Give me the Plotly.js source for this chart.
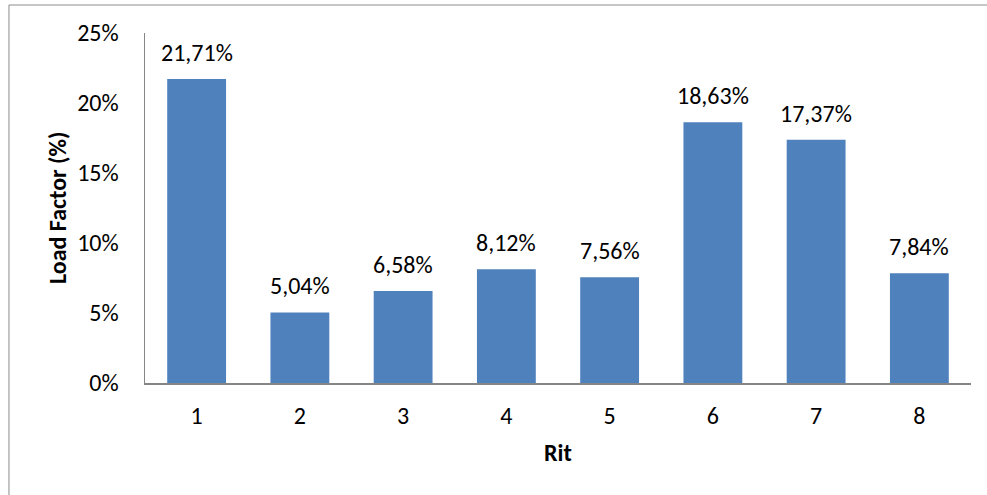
<!DOCTYPE html>
<html>
<head>
<meta charset="utf-8">
<script src="https://cdn.plot.ly/plotly-3.0.1.min.js"></script>
<style>
  html, body { margin: 0; padding: 0; background: #fff; }
  #chart { width: 987px; height: 495px; }
</style>
</head>
<body>
<div id="chart"></div>
<script>
// Load factor per run (Rit), in percent
const rits = ['1', '2', '3', '4', '5', '6', '7', '8'];
const loadFactor = [21.71, 5.04, 6.58, 8.12, 7.56, 18.63, 17.37, 7.84];
const yTicks = [0, 5, 10, 15, 20, 25];

const FONT = 'Carlito, Calibri, Lato, sans-serif';
const FS = 24;
const fmt = v => v.toFixed(2).replace('.', ',') + '%';

const bars = {
  type: 'bar',
  x: rits,
  y: loadFactor,
  marker: { color: '#4F81BD', line: { width: 0 } },
  hoverinfo: 'skip'
};

// value labels above each bar (category axis positions are indices)
const valueLabels = rits.map((r, i) => ({
  x: i, y: loadFactor[i], xref: 'x', yref: 'y',
  text: fmt(loadFactor[i]), showarrow: false,
  xanchor: 'center', yanchor: 'bottom', yshift: 10,
  font: { family: FONT, size: FS, color: '#000' }
}));

const layout = {
  width: 987, height: 495,
  margin: { l: 145, r: 16, t: 33, b: 112, pad: 0 },
  paper_bgcolor: '#fff', plot_bgcolor: '#fff',
  showlegend: false,
  bargap: 0.43,
  font: { family: FONT, size: FS, color: '#000' },
  xaxis: {
    type: 'category',
    range: [-0.5, rits.length - 0.5],
    showgrid: false, zeroline: false,
    showline: true, linecolor: '#868686', linewidth: 1.5,
    ticks: '', ticklabelstandoff: 11,
    tickfont: { family: FONT, size: FS, color: '#000' },
    fixedrange: true
  },
  yaxis: {
    range: [0, 25],
    tickvals: yTicks, ticktext: yTicks.map(v => v + '%'),
    showgrid: false, zeroline: false,
    showline: true, linecolor: '#868686', linewidth: 1.5,
    ticks: '', ticklabelstandoff: 20,
    tickfont: { family: FONT, size: FS, color: '#000' },
    fixedrange: true
  },
  annotations: valueLabels.concat([
    {
      text: '<b>Rit</b>', xref: 'paper', yref: 'paper',
      x: 0.5, y: -0.2, yshift: 1, showarrow: false,
      xanchor: 'center', yanchor: 'middle',
      font: { family: FONT, size: FS, color: '#000' }
    },
    {
      text: '<b>Load Factor (%)</b>', xref: 'paper', yref: 'paper',
      x: 0, xshift: -88, y: 0.5, showarrow: false, textangle: -90,
      xanchor: 'center', yanchor: 'middle',
      font: { family: FONT, size: FS, color: '#000' }
    }
  ]),
  shapes: [
    // chart-area frame (top and left edges visible)
    { type: 'line', xref: 'paper', yref: 'paper', x0: -0.1647, x1: 1.1, y0: 1.08, y1: 1.08,
      line: { color: '#8C8C8C', width: 1 } },
    { type: 'line', xref: 'paper', yref: 'paper', x0: -0.1647, x1: -0.1647, y0: 1.08, y1: -0.4,
      line: { color: '#8C8C8C', width: 1 } }
  ]
};

Plotly.newPlot('chart', [bars], layout, { staticPlot: true, displayModeBar: false });
</script>
</body>
</html>
